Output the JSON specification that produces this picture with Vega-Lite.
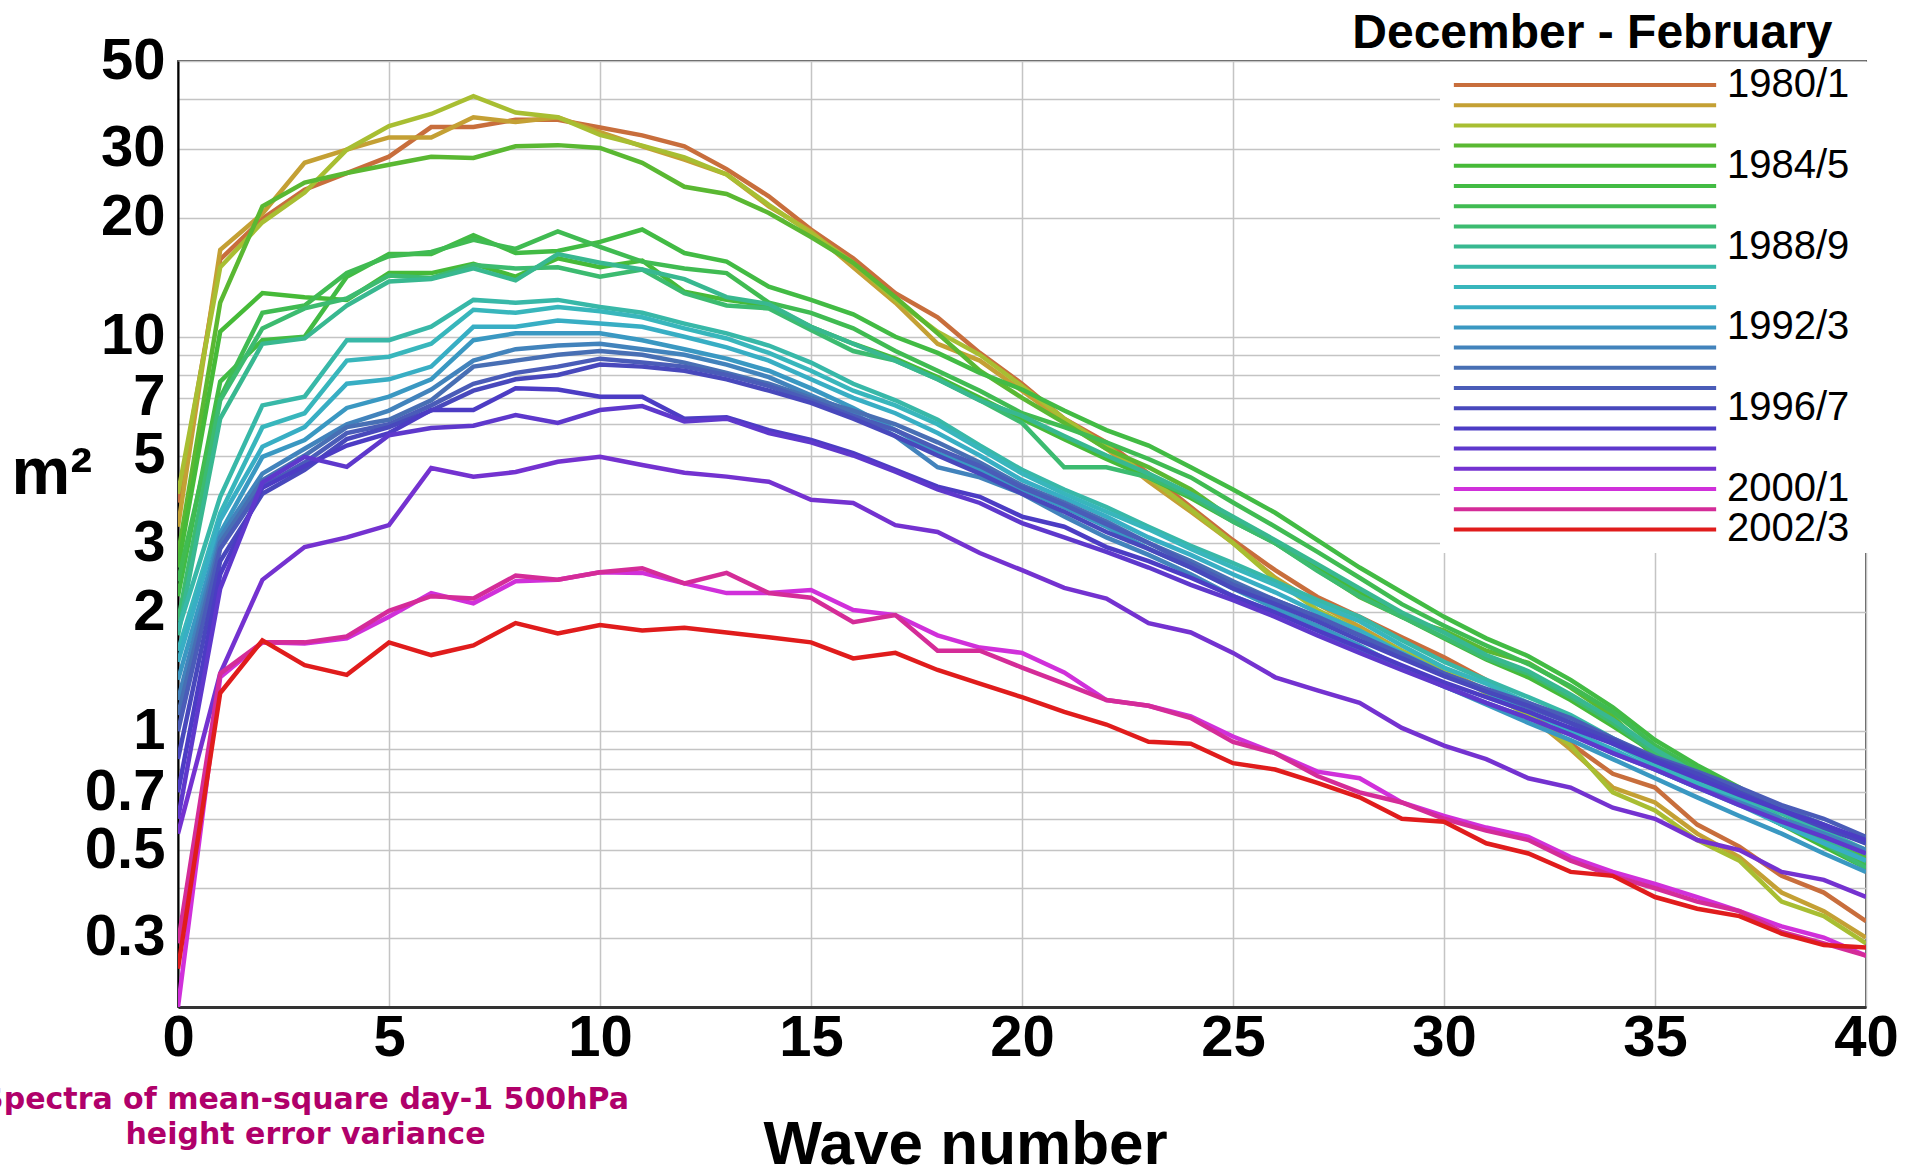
{
"$schema":"https://vega.github.io/schema/vega-lite/v6.json",
"width":1688,"height":946,
"autosize":{"type":"none"},
"padding":{"left":178,"top":61,"right":49,"bottom":161},
"background":"white",
"config":{"view":{"stroke":"#555555","strokeWidth":2},"font":"Liberation Sans"},
"data":{"values":[
{"w":"1980/1","n":0,"v":3.8},{"w":"1980/1","n":1,"v":15.7},{"w":"1980/1","n":2,"v":19.9},{"w":"1980/1","n":3,"v":23.6},{"w":"1980/1","n":4,"v":26},{"w":"1980/1","n":5,"v":28.6},{"w":"1980/1","n":6,"v":34},{"w":"1980/1","n":7,"v":34},{"w":"1980/1","n":8,"v":35.5},{"w":"1980/1","n":9,"v":35.5},{"w":"1980/1","n":10,"v":33.9},{"w":"1980/1","n":11,"v":32.4},{"w":"1980/1","n":12,"v":30.4},{"w":"1980/1","n":13,"v":26.6},{"w":"1980/1","n":14,"v":22.7},{"w":"1980/1","n":15,"v":18.7},{"w":"1980/1","n":16,"v":15.8},{"w":"1980/1","n":17,"v":12.9},{"w":"1980/1","n":18,"v":11.2},{"w":"1980/1","n":19,"v":9.1},{"w":"1980/1","n":20,"v":7.6},{"w":"1980/1","n":21,"v":6.2},{"w":"1980/1","n":22,"v":5.4},{"w":"1980/1","n":23,"v":4.5},{"w":"1980/1","n":24,"v":3.7},{"w":"1980/1","n":25,"v":3.05},{"w":"1980/1","n":26,"v":2.56},{"w":"1980/1","n":27,"v":2.19},{"w":"1980/1","n":28,"v":1.95},{"w":"1980/1","n":29,"v":1.73},{"w":"1980/1","n":30,"v":1.54},{"w":"1980/1","n":31,"v":1.35},{"w":"1980/1","n":32,"v":1.13},{"w":"1980/1","n":33,"v":0.93},{"w":"1980/1","n":34,"v":0.78},{"w":"1980/1","n":35,"v":0.72},{"w":"1980/1","n":36,"v":0.58},{"w":"1980/1","n":37,"v":0.51},{"w":"1980/1","n":38,"v":0.43},{"w":"1980/1","n":39,"v":0.39},{"w":"1980/1","n":40,"v":0.33},
{"w":"1981/2","n":0,"v":3.3},{"w":"1981/2","n":1,"v":16.6},{"w":"1981/2","n":2,"v":20.5},{"w":"1981/2","n":3,"v":27.6},{"w":"1981/2","n":4,"v":29.8},{"w":"1981/2","n":5,"v":32},{"w":"1981/2","n":6,"v":32},{"w":"1981/2","n":7,"v":36},{"w":"1981/2","n":8,"v":35},{"w":"1981/2","n":9,"v":36},{"w":"1981/2","n":10,"v":33},{"w":"1981/2","n":11,"v":30.4},{"w":"1981/2","n":12,"v":28.1},{"w":"1981/2","n":13,"v":25.8},{"w":"1981/2","n":14,"v":21.4},{"w":"1981/2","n":15,"v":18.5},{"w":"1981/2","n":16,"v":15},{"w":"1981/2","n":17,"v":12.2},{"w":"1981/2","n":18,"v":9.6},{"w":"1981/2","n":19,"v":8.7},{"w":"1981/2","n":20,"v":7.3},{"w":"1981/2","n":21,"v":6.1},{"w":"1981/2","n":22,"v":5.2},{"w":"1981/2","n":23,"v":4.3},{"w":"1981/2","n":24,"v":3.6},{"w":"1981/2","n":25,"v":3.0},{"w":"1981/2","n":26,"v":2.45},{"w":"1981/2","n":27,"v":2.1},{"w":"1981/2","n":28,"v":1.84},{"w":"1981/2","n":29,"v":1.6},{"w":"1981/2","n":30,"v":1.43},{"w":"1981/2","n":31,"v":1.27},{"w":"1981/2","n":32,"v":1.1},{"w":"1981/2","n":33,"v":0.9},{"w":"1981/2","n":34,"v":0.72},{"w":"1981/2","n":35,"v":0.66},{"w":"1981/2","n":36,"v":0.55},{"w":"1981/2","n":37,"v":0.48},{"w":"1981/2","n":38,"v":0.39},{"w":"1981/2","n":39,"v":0.35},{"w":"1981/2","n":40,"v":0.3},
{"w":"1982/3","n":0,"v":4.0},{"w":"1982/3","n":1,"v":15},{"w":"1982/3","n":2,"v":19.5},{"w":"1982/3","n":3,"v":23.2},{"w":"1982/3","n":4,"v":29.8},{"w":"1982/3","n":5,"v":34.2},{"w":"1982/3","n":6,"v":36.7},{"w":"1982/3","n":7,"v":40.7},{"w":"1982/3","n":8,"v":37},{"w":"1982/3","n":9,"v":36},{"w":"1982/3","n":10,"v":32.5},{"w":"1982/3","n":11,"v":30.5},{"w":"1982/3","n":12,"v":28.5},{"w":"1982/3","n":13,"v":25.8},{"w":"1982/3","n":14,"v":21.6},{"w":"1982/3","n":15,"v":18.3},{"w":"1982/3","n":16,"v":15.4},{"w":"1982/3","n":17,"v":12.4},{"w":"1982/3","n":18,"v":10.3},{"w":"1982/3","n":19,"v":9.0},{"w":"1982/3","n":20,"v":7.5},{"w":"1982/3","n":21,"v":6.2},{"w":"1982/3","n":22,"v":5.3},{"w":"1982/3","n":23,"v":4.4},{"w":"1982/3","n":24,"v":3.65},{"w":"1982/3","n":25,"v":3.0},{"w":"1982/3","n":26,"v":2.42},{"w":"1982/3","n":27,"v":2.03},{"w":"1982/3","n":28,"v":1.8},{"w":"1982/3","n":29,"v":1.6},{"w":"1982/3","n":30,"v":1.43},{"w":"1982/3","n":31,"v":1.25},{"w":"1982/3","n":32,"v":1.1},{"w":"1982/3","n":33,"v":0.92},{"w":"1982/3","n":34,"v":0.7},{"w":"1982/3","n":35,"v":0.63},{"w":"1982/3","n":36,"v":0.53},{"w":"1982/3","n":37,"v":0.47},{"w":"1982/3","n":38,"v":0.37},{"w":"1982/3","n":39,"v":0.34},{"w":"1982/3","n":40,"v":0.29},
{"w":"1983/4","n":0,"v":2.8},{"w":"1983/4","n":1,"v":12.2},{"w":"1983/4","n":2,"v":21.4},{"w":"1983/4","n":3,"v":24.6},{"w":"1983/4","n":4,"v":26},{"w":"1983/4","n":5,"v":27.3},{"w":"1983/4","n":6,"v":28.6},{"w":"1983/4","n":7,"v":28.4},{"w":"1983/4","n":8,"v":30.4},{"w":"1983/4","n":9,"v":30.6},{"w":"1983/4","n":10,"v":30.1},{"w":"1983/4","n":11,"v":27.6},{"w":"1983/4","n":12,"v":24},{"w":"1983/4","n":13,"v":23},{"w":"1983/4","n":14,"v":20.6},{"w":"1983/4","n":15,"v":17.9},{"w":"1983/4","n":16,"v":15.4},{"w":"1983/4","n":17,"v":12.6},{"w":"1983/4","n":18,"v":10.2},{"w":"1983/4","n":19,"v":8.2},{"w":"1983/4","n":20,"v":7.0},{"w":"1983/4","n":21,"v":6.05},{"w":"1983/4","n":22,"v":5.2},{"w":"1983/4","n":23,"v":4.67},{"w":"1983/4","n":24,"v":4.1},{"w":"1983/4","n":25,"v":3.45},{"w":"1983/4","n":26,"v":3.0},{"w":"1983/4","n":27,"v":2.56},{"w":"1983/4","n":28,"v":2.19},{"w":"1983/4","n":29,"v":1.95},{"w":"1983/4","n":30,"v":1.8},{"w":"1983/4","n":31,"v":1.6},{"w":"1983/4","n":32,"v":1.49},{"w":"1983/4","n":33,"v":1.29},{"w":"1983/4","n":34,"v":1.09},{"w":"1983/4","n":35,"v":0.86},{"w":"1983/4","n":36,"v":0.76},{"w":"1983/4","n":37,"v":0.66},{"w":"1983/4","n":38,"v":0.58},{"w":"1983/4","n":39,"v":0.53},{"w":"1983/4","n":40,"v":0.48},
{"w":"1984/5","n":0,"v":2.6},{"w":"1984/5","n":1,"v":10.3},{"w":"1984/5","n":2,"v":12.9},{"w":"1984/5","n":3,"v":12.6},{"w":"1984/5","n":4,"v":12.4},{"w":"1984/5","n":5,"v":14.5},{"w":"1984/5","n":6,"v":14.5},{"w":"1984/5","n":7,"v":15.3},{"w":"1984/5","n":8,"v":14.2},{"w":"1984/5","n":9,"v":15.8},{"w":"1984/5","n":10,"v":15.0},{"w":"1984/5","n":11,"v":15.6},{"w":"1984/5","n":12,"v":13.0},{"w":"1984/5","n":13,"v":12.4},{"w":"1984/5","n":14,"v":12.0},{"w":"1984/5","n":15,"v":10.6},{"w":"1984/5","n":16,"v":9.6},{"w":"1984/5","n":17,"v":8.8},{"w":"1984/5","n":18,"v":7.9},{"w":"1984/5","n":19,"v":7.0},{"w":"1984/5","n":20,"v":6.2},{"w":"1984/5","n":21,"v":5.5},{"w":"1984/5","n":22,"v":4.9},{"w":"1984/5","n":23,"v":4.4},{"w":"1984/5","n":24,"v":3.9},{"w":"1984/5","n":25,"v":3.4},{"w":"1984/5","n":26,"v":3.0},{"w":"1984/5","n":27,"v":2.6},{"w":"1984/5","n":28,"v":2.25},{"w":"1984/5","n":29,"v":1.95},{"w":"1984/5","n":30,"v":1.72},{"w":"1984/5","n":31,"v":1.52},{"w":"1984/5","n":32,"v":1.37},{"w":"1984/5","n":33,"v":1.2},{"w":"1984/5","n":34,"v":1.03},{"w":"1984/5","n":35,"v":0.88},{"w":"1984/5","n":36,"v":0.76},{"w":"1984/5","n":37,"v":0.66},{"w":"1984/5","n":38,"v":0.58},{"w":"1984/5","n":39,"v":0.51},{"w":"1984/5","n":40,"v":0.45},
{"w":"1985/6","n":0,"v":2.2},{"w":"1985/6","n":1,"v":7.7},{"w":"1985/6","n":2,"v":9.8},{"w":"1985/6","n":3,"v":10.0},{"w":"1985/6","n":4,"v":14.2},{"w":"1985/6","n":5,"v":16.2},{"w":"1985/6","n":6,"v":16.2},{"w":"1985/6","n":7,"v":18.1},{"w":"1985/6","n":8,"v":16.3},{"w":"1985/6","n":9,"v":16.5},{"w":"1985/6","n":10,"v":17.4},{"w":"1985/6","n":11,"v":18.7},{"w":"1985/6","n":12,"v":16.3},{"w":"1985/6","n":13,"v":15.5},{"w":"1985/6","n":14,"v":13.4},{"w":"1985/6","n":15,"v":12.4},{"w":"1985/6","n":16,"v":11.4},{"w":"1985/6","n":17,"v":10.0},{"w":"1985/6","n":18,"v":9.1},{"w":"1985/6","n":19,"v":8.1},{"w":"1985/6","n":20,"v":7.35},{"w":"1985/6","n":21,"v":6.5},{"w":"1985/6","n":22,"v":5.8},{"w":"1985/6","n":23,"v":5.3},{"w":"1985/6","n":24,"v":4.67},{"w":"1985/6","n":25,"v":4.1},{"w":"1985/6","n":26,"v":3.58},{"w":"1985/6","n":27,"v":3.05},{"w":"1985/6","n":28,"v":2.6},{"w":"1985/6","n":29,"v":2.25},{"w":"1985/6","n":30,"v":1.95},{"w":"1985/6","n":31,"v":1.72},{"w":"1985/6","n":32,"v":1.55},{"w":"1985/6","n":33,"v":1.35},{"w":"1985/6","n":34,"v":1.15},{"w":"1985/6","n":35,"v":0.95},{"w":"1985/6","n":36,"v":0.82},{"w":"1985/6","n":37,"v":0.72},{"w":"1985/6","n":38,"v":0.62},{"w":"1985/6","n":39,"v":0.55},{"w":"1985/6","n":40,"v":0.49},
{"w":"1986/7","n":0,"v":2.4},{"w":"1986/7","n":1,"v":7.0},{"w":"1986/7","n":2,"v":11.5},{"w":"1986/7","n":3,"v":12.0},{"w":"1986/7","n":4,"v":14.5},{"w":"1986/7","n":5,"v":16.0},{"w":"1986/7","n":6,"v":16.4},{"w":"1986/7","n":7,"v":17.6},{"w":"1986/7","n":8,"v":16.7},{"w":"1986/7","n":9,"v":18.5},{"w":"1986/7","n":10,"v":16.9},{"w":"1986/7","n":11,"v":15.5},{"w":"1986/7","n":12,"v":14.9},{"w":"1986/7","n":13,"v":14.5},{"w":"1986/7","n":14,"v":12.2},{"w":"1986/7","n":15,"v":11.5},{"w":"1986/7","n":16,"v":10.5},{"w":"1986/7","n":17,"v":9.2},{"w":"1986/7","n":18,"v":8.2},{"w":"1986/7","n":19,"v":7.3},{"w":"1986/7","n":20,"v":6.4},{"w":"1986/7","n":21,"v":5.9},{"w":"1986/7","n":22,"v":5.4},{"w":"1986/7","n":23,"v":4.9},{"w":"1986/7","n":24,"v":4.4},{"w":"1986/7","n":25,"v":3.8},{"w":"1986/7","n":26,"v":3.3},{"w":"1986/7","n":27,"v":2.85},{"w":"1986/7","n":28,"v":2.45},{"w":"1986/7","n":29,"v":2.1},{"w":"1986/7","n":30,"v":1.85},{"w":"1986/7","n":31,"v":1.65},{"w":"1986/7","n":32,"v":1.48},{"w":"1986/7","n":33,"v":1.3},{"w":"1986/7","n":34,"v":1.12},{"w":"1986/7","n":35,"v":0.92},{"w":"1986/7","n":36,"v":0.8},{"w":"1986/7","n":37,"v":0.7},{"w":"1986/7","n":38,"v":0.6},{"w":"1986/7","n":39,"v":0.53},{"w":"1986/7","n":40,"v":0.46},
{"w":"1987/8","n":0,"v":1.9},{"w":"1987/8","n":1,"v":6.9},{"w":"1987/8","n":2,"v":10.5},{"w":"1987/8","n":3,"v":11.8},{"w":"1987/8","n":4,"v":12.5},{"w":"1987/8","n":5,"v":14.3},{"w":"1987/8","n":6,"v":14.1},{"w":"1987/8","n":7,"v":15.2},{"w":"1987/8","n":8,"v":14.9},{"w":"1987/8","n":9,"v":15.0},{"w":"1987/8","n":10,"v":14.2},{"w":"1987/8","n":11,"v":14.8},{"w":"1987/8","n":12,"v":12.9},{"w":"1987/8","n":13,"v":12.0},{"w":"1987/8","n":14,"v":11.8},{"w":"1987/8","n":15,"v":10.4},{"w":"1987/8","n":16,"v":9.2},{"w":"1987/8","n":17,"v":8.7},{"w":"1987/8","n":18,"v":7.8},{"w":"1987/8","n":19,"v":6.9},{"w":"1987/8","n":20,"v":6.05},{"w":"1987/8","n":21,"v":4.67},{"w":"1987/8","n":22,"v":4.67},{"w":"1987/8","n":23,"v":4.4},{"w":"1987/8","n":24,"v":3.95},{"w":"1987/8","n":25,"v":3.4},{"w":"1987/8","n":26,"v":3.0},{"w":"1987/8","n":27,"v":2.55},{"w":"1987/8","n":28,"v":2.2},{"w":"1987/8","n":29,"v":1.95},{"w":"1987/8","n":30,"v":1.73},{"w":"1987/8","n":31,"v":1.53},{"w":"1987/8","n":32,"v":1.4},{"w":"1987/8","n":33,"v":1.22},{"w":"1987/8","n":34,"v":1.05},{"w":"1987/8","n":35,"v":0.88},{"w":"1987/8","n":36,"v":0.77},{"w":"1987/8","n":37,"v":0.67},{"w":"1987/8","n":38,"v":0.59},{"w":"1987/8","n":39,"v":0.52},{"w":"1987/8","n":40,"v":0.45},
{"w":"1988/9","n":0,"v":1.75},{"w":"1988/9","n":1,"v":6.2},{"w":"1988/9","n":2,"v":9.6},{"w":"1988/9","n":3,"v":9.9},{"w":"1988/9","n":4,"v":12.0},{"w":"1988/9","n":5,"v":13.8},{"w":"1988/9","n":6,"v":14.0},{"w":"1988/9","n":7,"v":14.9},{"w":"1988/9","n":8,"v":13.9},{"w":"1988/9","n":9,"v":16.2},{"w":"1988/9","n":10,"v":15.4},{"w":"1988/9","n":11,"v":14.8},{"w":"1988/9","n":12,"v":14.0},{"w":"1988/9","n":13,"v":12.6},{"w":"1988/9","n":14,"v":12.1},{"w":"1988/9","n":15,"v":10.6},{"w":"1988/9","n":16,"v":9.6},{"w":"1988/9","n":17,"v":8.7},{"w":"1988/9","n":18,"v":7.8},{"w":"1988/9","n":19,"v":6.9},{"w":"1988/9","n":20,"v":6.3},{"w":"1988/9","n":21,"v":5.6},{"w":"1988/9","n":22,"v":5.0},{"w":"1988/9","n":23,"v":4.5},{"w":"1988/9","n":24,"v":4.0},{"w":"1988/9","n":25,"v":3.5},{"w":"1988/9","n":26,"v":3.05},{"w":"1988/9","n":27,"v":2.65},{"w":"1988/9","n":28,"v":2.3},{"w":"1988/9","n":29,"v":2.0},{"w":"1988/9","n":30,"v":1.78},{"w":"1988/9","n":31,"v":1.56},{"w":"1988/9","n":32,"v":1.42},{"w":"1988/9","n":33,"v":1.24},{"w":"1988/9","n":34,"v":1.07},{"w":"1988/9","n":35,"v":0.9},{"w":"1988/9","n":36,"v":0.78},{"w":"1988/9","n":37,"v":0.68},{"w":"1988/9","n":38,"v":0.6},{"w":"1988/9","n":39,"v":0.53},{"w":"1988/9","n":40,"v":0.47},
{"w":"1989/0","n":0,"v":1.8},{"w":"1989/0","n":1,"v":3.93},{"w":"1989/0","n":2,"v":6.7},{"w":"1989/0","n":3,"v":7.05},{"w":"1989/0","n":4,"v":9.8},{"w":"1989/0","n":5,"v":9.8},{"w":"1989/0","n":6,"v":10.6},{"w":"1989/0","n":7,"v":12.4},{"w":"1989/0","n":8,"v":12.2},{"w":"1989/0","n":9,"v":12.4},{"w":"1989/0","n":10,"v":11.9},{"w":"1989/0","n":11,"v":11.5},{"w":"1989/0","n":12,"v":10.8},{"w":"1989/0","n":13,"v":10.2},{"w":"1989/0","n":14,"v":9.5},{"w":"1989/0","n":15,"v":8.6},{"w":"1989/0","n":16,"v":7.6},{"w":"1989/0","n":17,"v":6.9},{"w":"1989/0","n":18,"v":6.16},{"w":"1989/0","n":19,"v":5.3},{"w":"1989/0","n":20,"v":4.6},{"w":"1989/0","n":21,"v":4.1},{"w":"1989/0","n":22,"v":3.7},{"w":"1989/0","n":23,"v":3.3},{"w":"1989/0","n":24,"v":2.95},{"w":"1989/0","n":25,"v":2.67},{"w":"1989/0","n":26,"v":2.4},{"w":"1989/0","n":27,"v":2.15},{"w":"1989/0","n":28,"v":1.95},{"w":"1989/0","n":29,"v":1.7},{"w":"1989/0","n":30,"v":1.5},{"w":"1989/0","n":31,"v":1.35},{"w":"1989/0","n":32,"v":1.22},{"w":"1989/0","n":33,"v":1.1},{"w":"1989/0","n":34,"v":0.96},{"w":"1989/0","n":35,"v":0.85},{"w":"1989/0","n":36,"v":0.77},{"w":"1989/0","n":37,"v":0.69},{"w":"1989/0","n":38,"v":0.62},{"w":"1989/0","n":39,"v":0.56},{"w":"1989/0","n":40,"v":0.5},
{"w":"1990/1","n":0,"v":1.6},{"w":"1990/1","n":1,"v":3.57},{"w":"1990/1","n":2,"v":5.9},{"w":"1990/1","n":3,"v":6.4},{"w":"1990/1","n":4,"v":8.7},{"w":"1990/1","n":5,"v":8.9},{"w":"1990/1","n":6,"v":9.6},{"w":"1990/1","n":7,"v":11.7},{"w":"1990/1","n":8,"v":11.5},{"w":"1990/1","n":9,"v":11.9},{"w":"1990/1","n":10,"v":11.6},{"w":"1990/1","n":11,"v":11.2},{"w":"1990/1","n":12,"v":10.5},{"w":"1990/1","n":13,"v":9.9},{"w":"1990/1","n":14,"v":9.1},{"w":"1990/1","n":15,"v":8.2},{"w":"1990/1","n":16,"v":7.3},{"w":"1990/1","n":17,"v":6.7},{"w":"1990/1","n":18,"v":6.0},{"w":"1990/1","n":19,"v":5.2},{"w":"1990/1","n":20,"v":4.5},{"w":"1990/1","n":21,"v":4.0},{"w":"1990/1","n":22,"v":3.6},{"w":"1990/1","n":23,"v":3.25},{"w":"1990/1","n":24,"v":2.9},{"w":"1990/1","n":25,"v":2.6},{"w":"1990/1","n":26,"v":2.35},{"w":"1990/1","n":27,"v":2.1},{"w":"1990/1","n":28,"v":1.9},{"w":"1990/1","n":29,"v":1.65},{"w":"1990/1","n":30,"v":1.45},{"w":"1990/1","n":31,"v":1.32},{"w":"1990/1","n":32,"v":1.18},{"w":"1990/1","n":33,"v":1.05},{"w":"1990/1","n":34,"v":0.93},{"w":"1990/1","n":35,"v":0.82},{"w":"1990/1","n":36,"v":0.74},{"w":"1990/1","n":37,"v":0.67},{"w":"1990/1","n":38,"v":0.6},{"w":"1990/1","n":39,"v":0.54},{"w":"1990/1","n":40,"v":0.49},
{"w":"1991/2","n":0,"v":1.5},{"w":"1991/2","n":1,"v":3.43},{"w":"1991/2","n":2,"v":5.26},{"w":"1991/2","n":3,"v":5.9},{"w":"1991/2","n":4,"v":7.6},{"w":"1991/2","n":5,"v":7.8},{"w":"1991/2","n":6,"v":8.4},{"w":"1991/2","n":7,"v":10.6},{"w":"1991/2","n":8,"v":10.6},{"w":"1991/2","n":9,"v":11.0},{"w":"1991/2","n":10,"v":10.8},{"w":"1991/2","n":11,"v":10.6},{"w":"1991/2","n":12,"v":10.0},{"w":"1991/2","n":13,"v":9.4},{"w":"1991/2","n":14,"v":8.7},{"w":"1991/2","n":15,"v":7.8},{"w":"1991/2","n":16,"v":7.0},{"w":"1991/2","n":17,"v":6.4},{"w":"1991/2","n":18,"v":5.7},{"w":"1991/2","n":19,"v":5.0},{"w":"1991/2","n":20,"v":4.33},{"w":"1991/2","n":21,"v":3.9},{"w":"1991/2","n":22,"v":3.5},{"w":"1991/2","n":23,"v":3.1},{"w":"1991/2","n":24,"v":2.8},{"w":"1991/2","n":25,"v":2.5},{"w":"1991/2","n":26,"v":2.25},{"w":"1991/2","n":27,"v":2.0},{"w":"1991/2","n":28,"v":1.8},{"w":"1991/2","n":29,"v":1.58},{"w":"1991/2","n":30,"v":1.4},{"w":"1991/2","n":31,"v":1.26},{"w":"1991/2","n":32,"v":1.12},{"w":"1991/2","n":33,"v":1.0},{"w":"1991/2","n":34,"v":0.9},{"w":"1991/2","n":35,"v":0.8},{"w":"1991/2","n":36,"v":0.72},{"w":"1991/2","n":37,"v":0.65},{"w":"1991/2","n":38,"v":0.58},{"w":"1991/2","n":39,"v":0.52},{"w":"1991/2","n":40,"v":0.47},
{"w":"1992/3","n":0,"v":1.35},{"w":"1992/3","n":1,"v":3.18},{"w":"1992/3","n":2,"v":4.96},{"w":"1992/3","n":3,"v":5.47},{"w":"1992/3","n":4,"v":6.6},{"w":"1992/3","n":5,"v":7.05},{"w":"1992/3","n":6,"v":7.8},{"w":"1992/3","n":7,"v":9.8},{"w":"1992/3","n":8,"v":10.2},{"w":"1992/3","n":9,"v":10.2},{"w":"1992/3","n":10,"v":10.2},{"w":"1992/3","n":11,"v":9.8},{"w":"1992/3","n":12,"v":9.3},{"w":"1992/3","n":13,"v":8.8},{"w":"1992/3","n":14,"v":8.2},{"w":"1992/3","n":15,"v":7.4},{"w":"1992/3","n":16,"v":6.6},{"w":"1992/3","n":17,"v":5.8},{"w":"1992/3","n":18,"v":5.07},{"w":"1992/3","n":19,"v":4.6},{"w":"1992/3","n":20,"v":4.1},{"w":"1992/3","n":21,"v":3.7},{"w":"1992/3","n":22,"v":3.3},{"w":"1992/3","n":23,"v":2.9},{"w":"1992/3","n":24,"v":2.6},{"w":"1992/3","n":25,"v":2.3},{"w":"1992/3","n":26,"v":2.05},{"w":"1992/3","n":27,"v":1.85},{"w":"1992/3","n":28,"v":1.65},{"w":"1992/3","n":29,"v":1.45},{"w":"1992/3","n":30,"v":1.3},{"w":"1992/3","n":31,"v":1.17},{"w":"1992/3","n":32,"v":1.05},{"w":"1992/3","n":33,"v":0.95},{"w":"1992/3","n":34,"v":0.85},{"w":"1992/3","n":35,"v":0.76},{"w":"1992/3","n":36,"v":0.68},{"w":"1992/3","n":37,"v":0.61},{"w":"1992/3","n":38,"v":0.55},{"w":"1992/3","n":39,"v":0.49},{"w":"1992/3","n":40,"v":0.44},
{"w":"1993/4","n":0,"v":1.2},{"w":"1993/4","n":1,"v":3.1},{"w":"1993/4","n":2,"v":4.5},{"w":"1993/4","n":3,"v":5.2},{"w":"1993/4","n":4,"v":6.0},{"w":"1993/4","n":5,"v":6.5},{"w":"1993/4","n":6,"v":7.35},{"w":"1993/4","n":7,"v":8.7},{"w":"1993/4","n":8,"v":9.3},{"w":"1993/4","n":9,"v":9.5},{"w":"1993/4","n":10,"v":9.6},{"w":"1993/4","n":11,"v":9.3},{"w":"1993/4","n":12,"v":9.0},{"w":"1993/4","n":13,"v":8.5},{"w":"1993/4","n":14,"v":7.9},{"w":"1993/4","n":15,"v":7.1},{"w":"1993/4","n":16,"v":6.4},{"w":"1993/4","n":17,"v":5.6},{"w":"1993/4","n":18,"v":4.67},{"w":"1993/4","n":19,"v":4.4},{"w":"1993/4","n":20,"v":4.0},{"w":"1993/4","n":21,"v":3.5},{"w":"1993/4","n":22,"v":3.1},{"w":"1993/4","n":23,"v":2.8},{"w":"1993/4","n":24,"v":2.5},{"w":"1993/4","n":25,"v":2.2},{"w":"1993/4","n":26,"v":2.0},{"w":"1993/4","n":27,"v":1.8},{"w":"1993/4","n":28,"v":1.6},{"w":"1993/4","n":29,"v":1.45},{"w":"1993/4","n":30,"v":1.3},{"w":"1993/4","n":31,"v":1.18},{"w":"1993/4","n":32,"v":1.08},{"w":"1993/4","n":33,"v":0.98},{"w":"1993/4","n":34,"v":0.88},{"w":"1993/4","n":35,"v":0.8},{"w":"1993/4","n":36,"v":0.72},{"w":"1993/4","n":37,"v":0.66},{"w":"1993/4","n":38,"v":0.6},{"w":"1993/4","n":39,"v":0.55},{"w":"1993/4","n":40,"v":0.5},
{"w":"1994/5","n":0,"v":1.1},{"w":"1994/5","n":1,"v":3.0},{"w":"1994/5","n":2,"v":4.33},{"w":"1994/5","n":3,"v":5.0},{"w":"1994/5","n":4,"v":5.9},{"w":"1994/5","n":5,"v":6.16},{"w":"1994/5","n":6,"v":6.9},{"w":"1994/5","n":7,"v":8.4},{"w":"1994/5","n":8,"v":8.7},{"w":"1994/5","n":9,"v":9.0},{"w":"1994/5","n":10,"v":9.2},{"w":"1994/5","n":11,"v":9.0},{"w":"1994/5","n":12,"v":8.6},{"w":"1994/5","n":13,"v":8.1},{"w":"1994/5","n":14,"v":7.6},{"w":"1994/5","n":15,"v":7.0},{"w":"1994/5","n":16,"v":6.5},{"w":"1994/5","n":17,"v":6.0},{"w":"1994/5","n":18,"v":5.4},{"w":"1994/5","n":19,"v":4.8},{"w":"1994/5","n":20,"v":4.2},{"w":"1994/5","n":21,"v":3.8},{"w":"1994/5","n":22,"v":3.4},{"w":"1994/5","n":23,"v":3.0},{"w":"1994/5","n":24,"v":2.7},{"w":"1994/5","n":25,"v":2.4},{"w":"1994/5","n":26,"v":2.15},{"w":"1994/5","n":27,"v":1.95},{"w":"1994/5","n":28,"v":1.75},{"w":"1994/5","n":29,"v":1.55},{"w":"1994/5","n":30,"v":1.4},{"w":"1994/5","n":31,"v":1.27},{"w":"1994/5","n":32,"v":1.15},{"w":"1994/5","n":33,"v":1.05},{"w":"1994/5","n":34,"v":0.94},{"w":"1994/5","n":35,"v":0.84},{"w":"1994/5","n":36,"v":0.76},{"w":"1994/5","n":37,"v":0.7},{"w":"1994/5","n":38,"v":0.64},{"w":"1994/5","n":39,"v":0.58},{"w":"1994/5","n":40,"v":0.52},
{"w":"1995/6","n":0,"v":1.0},{"w":"1995/6","n":1,"v":2.9},{"w":"1995/6","n":2,"v":4.17},{"w":"1995/6","n":3,"v":4.8},{"w":"1995/6","n":4,"v":5.7},{"w":"1995/6","n":5,"v":6.0},{"w":"1995/6","n":6,"v":6.7},{"w":"1995/6","n":7,"v":7.6},{"w":"1995/6","n":8,"v":8.1},{"w":"1995/6","n":9,"v":8.4},{"w":"1995/6","n":10,"v":8.8},{"w":"1995/6","n":11,"v":8.6},{"w":"1995/6","n":12,"v":8.4},{"w":"1995/6","n":13,"v":8.0},{"w":"1995/6","n":14,"v":7.5},{"w":"1995/6","n":15,"v":6.9},{"w":"1995/6","n":16,"v":6.3},{"w":"1995/6","n":17,"v":5.8},{"w":"1995/6","n":18,"v":5.2},{"w":"1995/6","n":19,"v":4.7},{"w":"1995/6","n":20,"v":4.15},{"w":"1995/6","n":21,"v":3.75},{"w":"1995/6","n":22,"v":3.35},{"w":"1995/6","n":23,"v":3.0},{"w":"1995/6","n":24,"v":2.65},{"w":"1995/6","n":25,"v":2.35},{"w":"1995/6","n":26,"v":2.15},{"w":"1995/6","n":27,"v":1.95},{"w":"1995/6","n":28,"v":1.75},{"w":"1995/6","n":29,"v":1.57},{"w":"1995/6","n":30,"v":1.4},{"w":"1995/6","n":31,"v":1.28},{"w":"1995/6","n":32,"v":1.18},{"w":"1995/6","n":33,"v":1.08},{"w":"1995/6","n":34,"v":0.96},{"w":"1995/6","n":35,"v":0.86},{"w":"1995/6","n":36,"v":0.79},{"w":"1995/6","n":37,"v":0.72},{"w":"1995/6","n":38,"v":0.65},{"w":"1995/6","n":39,"v":0.6},{"w":"1995/6","n":40,"v":0.54},
{"w":"1996/7","n":0,"v":0.85},{"w":"1996/7","n":1,"v":2.7},{"w":"1996/7","n":2,"v":4.0},{"w":"1996/7","n":3,"v":4.6},{"w":"1996/7","n":4,"v":5.5},{"w":"1996/7","n":5,"v":5.9},{"w":"1996/7","n":6,"v":6.5},{"w":"1996/7","n":7,"v":7.3},{"w":"1996/7","n":8,"v":7.8},{"w":"1996/7","n":9,"v":8.0},{"w":"1996/7","n":10,"v":8.5},{"w":"1996/7","n":11,"v":8.4},{"w":"1996/7","n":12,"v":8.2},{"w":"1996/7","n":13,"v":7.8},{"w":"1996/7","n":14,"v":7.3},{"w":"1996/7","n":15,"v":6.8},{"w":"1996/7","n":16,"v":6.2},{"w":"1996/7","n":17,"v":5.6},{"w":"1996/7","n":18,"v":5.0},{"w":"1996/7","n":19,"v":4.5},{"w":"1996/7","n":20,"v":4.0},{"w":"1996/7","n":21,"v":3.6},{"w":"1996/7","n":22,"v":3.2},{"w":"1996/7","n":23,"v":2.9},{"w":"1996/7","n":24,"v":2.6},{"w":"1996/7","n":25,"v":2.3},{"w":"1996/7","n":26,"v":2.1},{"w":"1996/7","n":27,"v":1.9},{"w":"1996/7","n":28,"v":1.7},{"w":"1996/7","n":29,"v":1.53},{"w":"1996/7","n":30,"v":1.38},{"w":"1996/7","n":31,"v":1.26},{"w":"1996/7","n":32,"v":1.16},{"w":"1996/7","n":33,"v":1.05},{"w":"1996/7","n":34,"v":0.95},{"w":"1996/7","n":35,"v":0.85},{"w":"1996/7","n":36,"v":0.78},{"w":"1996/7","n":37,"v":0.7},{"w":"1996/7","n":38,"v":0.63},{"w":"1996/7","n":39,"v":0.57},{"w":"1996/7","n":40,"v":0.52},
{"w":"1997/8","n":0,"v":0.7},{"w":"1997/8","n":1,"v":2.5},{"w":"1997/8","n":2,"v":4.14},{"w":"1997/8","n":3,"v":4.7},{"w":"1997/8","n":4,"v":5.3},{"w":"1997/8","n":5,"v":5.7},{"w":"1997/8","n":6,"v":6.52},{"w":"1997/8","n":7,"v":6.52},{"w":"1997/8","n":8,"v":7.4},{"w":"1997/8","n":9,"v":7.35},{"w":"1997/8","n":10,"v":7.05},{"w":"1997/8","n":11,"v":7.05},{"w":"1997/8","n":12,"v":6.2},{"w":"1997/8","n":13,"v":6.25},{"w":"1997/8","n":14,"v":5.8},{"w":"1997/8","n":15,"v":5.48},{"w":"1997/8","n":16,"v":5.07},{"w":"1997/8","n":17,"v":4.6},{"w":"1997/8","n":18,"v":4.17},{"w":"1997/8","n":19,"v":3.93},{"w":"1997/8","n":20,"v":3.5},{"w":"1997/8","n":21,"v":3.3},{"w":"1997/8","n":22,"v":2.93},{"w":"1997/8","n":23,"v":2.7},{"w":"1997/8","n":24,"v":2.45},{"w":"1997/8","n":25,"v":2.2},{"w":"1997/8","n":26,"v":2.0},{"w":"1997/8","n":27,"v":1.8},{"w":"1997/8","n":28,"v":1.63},{"w":"1997/8","n":29,"v":1.47},{"w":"1997/8","n":30,"v":1.33},{"w":"1997/8","n":31,"v":1.22},{"w":"1997/8","n":32,"v":1.12},{"w":"1997/8","n":33,"v":1.02},{"w":"1997/8","n":34,"v":0.93},{"w":"1997/8","n":35,"v":0.84},{"w":"1997/8","n":36,"v":0.76},{"w":"1997/8","n":37,"v":0.69},{"w":"1997/8","n":38,"v":0.63},{"w":"1997/8","n":39,"v":0.58},{"w":"1997/8","n":40,"v":0.53},
{"w":"1998/9","n":0,"v":0.6},{"w":"1998/9","n":1,"v":2.3},{"w":"1998/9","n":2,"v":4.27},{"w":"1998/9","n":3,"v":4.96},{"w":"1998/9","n":4,"v":4.68},{"w":"1998/9","n":5,"v":5.63},{"w":"1998/9","n":6,"v":5.87},{"w":"1998/9","n":7,"v":5.95},{"w":"1998/9","n":8,"v":6.33},{"w":"1998/9","n":9,"v":6.05},{"w":"1998/9","n":10,"v":6.52},{"w":"1998/9","n":11,"v":6.67},{"w":"1998/9","n":12,"v":6.1},{"w":"1998/9","n":13,"v":6.2},{"w":"1998/9","n":14,"v":5.7},{"w":"1998/9","n":15,"v":5.4},{"w":"1998/9","n":16,"v":5.0},{"w":"1998/9","n":17,"v":4.55},{"w":"1998/9","n":18,"v":4.1},{"w":"1998/9","n":19,"v":3.79},{"w":"1998/9","n":20,"v":3.37},{"w":"1998/9","n":21,"v":3.1},{"w":"1998/9","n":22,"v":2.85},{"w":"1998/9","n":23,"v":2.6},{"w":"1998/9","n":24,"v":2.35},{"w":"1998/9","n":25,"v":2.15},{"w":"1998/9","n":26,"v":1.95},{"w":"1998/9","n":27,"v":1.75},{"w":"1998/9","n":28,"v":1.58},{"w":"1998/9","n":29,"v":1.43},{"w":"1998/9","n":30,"v":1.3},{"w":"1998/9","n":31,"v":1.18},{"w":"1998/9","n":32,"v":1.08},{"w":"1998/9","n":33,"v":0.98},{"w":"1998/9","n":34,"v":0.88},{"w":"1998/9","n":35,"v":0.8},{"w":"1998/9","n":36,"v":0.72},{"w":"1998/9","n":37,"v":0.65},{"w":"1998/9","n":38,"v":0.59},{"w":"1998/9","n":39,"v":0.54},{"w":"1998/9","n":40,"v":0.49},
{"w":"1999/0","n":0,"v":0.55},{"w":"1999/0","n":1,"v":1.4},{"w":"1999/0","n":2,"v":2.42},{"w":"1999/0","n":3,"v":2.93},{"w":"1999/0","n":4,"v":3.1},{"w":"1999/0","n":5,"v":3.33},{"w":"1999/0","n":6,"v":4.65},{"w":"1999/0","n":7,"v":4.42},{"w":"1999/0","n":8,"v":4.54},{"w":"1999/0","n":9,"v":4.82},{"w":"1999/0","n":10,"v":4.96},{"w":"1999/0","n":11,"v":4.73},{"w":"1999/0","n":12,"v":4.52},{"w":"1999/0","n":13,"v":4.42},{"w":"1999/0","n":14,"v":4.29},{"w":"1999/0","n":15,"v":3.86},{"w":"1999/0","n":16,"v":3.79},{"w":"1999/0","n":17,"v":3.33},{"w":"1999/0","n":18,"v":3.2},{"w":"1999/0","n":19,"v":2.83},{"w":"1999/0","n":20,"v":2.56},{"w":"1999/0","n":21,"v":2.31},{"w":"1999/0","n":22,"v":2.17},{"w":"1999/0","n":23,"v":1.88},{"w":"1999/0","n":24,"v":1.78},{"w":"1999/0","n":25,"v":1.58},{"w":"1999/0","n":26,"v":1.37},{"w":"1999/0","n":27,"v":1.27},{"w":"1999/0","n":28,"v":1.18},{"w":"1999/0","n":29,"v":1.02},{"w":"1999/0","n":30,"v":0.92},{"w":"1999/0","n":31,"v":0.85},{"w":"1999/0","n":32,"v":0.76},{"w":"1999/0","n":33,"v":0.72},{"w":"1999/0","n":34,"v":0.64},{"w":"1999/0","n":35,"v":0.6},{"w":"1999/0","n":36,"v":0.53},{"w":"1999/0","n":37,"v":0.5},{"w":"1999/0","n":38,"v":0.44},{"w":"1999/0","n":39,"v":0.42},{"w":"1999/0","n":40,"v":0.38},
{"w":"2000/1","n":0,"v":0.2},{"w":"2000/1","n":1,"v":1.37},{"w":"2000/1","n":2,"v":1.68},{"w":"2000/1","n":3,"v":1.67},{"w":"2000/1","n":4,"v":1.72},{"w":"2000/1","n":5,"v":1.95},{"w":"2000/1","n":6,"v":2.24},{"w":"2000/1","n":7,"v":2.11},{"w":"2000/1","n":8,"v":2.4},{"w":"2000/1","n":9,"v":2.42},{"w":"2000/1","n":10,"v":2.53},{"w":"2000/1","n":11,"v":2.52},{"w":"2000/1","n":12,"v":2.37},{"w":"2000/1","n":13,"v":2.24},{"w":"2000/1","n":14,"v":2.24},{"w":"2000/1","n":15,"v":2.28},{"w":"2000/1","n":16,"v":2.03},{"w":"2000/1","n":17,"v":1.97},{"w":"2000/1","n":18,"v":1.75},{"w":"2000/1","n":19,"v":1.63},{"w":"2000/1","n":20,"v":1.58},{"w":"2000/1","n":21,"v":1.41},{"w":"2000/1","n":22,"v":1.2},{"w":"2000/1","n":23,"v":1.16},{"w":"2000/1","n":24,"v":1.09},{"w":"2000/1","n":25,"v":0.97},{"w":"2000/1","n":26,"v":0.88},{"w":"2000/1","n":27,"v":0.79},{"w":"2000/1","n":28,"v":0.76},{"w":"2000/1","n":29,"v":0.66},{"w":"2000/1","n":30,"v":0.61},{"w":"2000/1","n":31,"v":0.57},{"w":"2000/1","n":32,"v":0.54},{"w":"2000/1","n":33,"v":0.48},{"w":"2000/1","n":34,"v":0.44},{"w":"2000/1","n":35,"v":0.41},{"w":"2000/1","n":36,"v":0.38},{"w":"2000/1","n":37,"v":0.35},{"w":"2000/1","n":38,"v":0.32},{"w":"2000/1","n":39,"v":0.3},{"w":"2000/1","n":40,"v":0.27},
{"w":"2001/2","n":0,"v":0.29},{"w":"2001/2","n":1,"v":1.4},{"w":"2001/2","n":2,"v":1.68},{"w":"2001/2","n":3,"v":1.68},{"w":"2001/2","n":4,"v":1.74},{"w":"2001/2","n":5,"v":2.02},{"w":"2001/2","n":6,"v":2.2},{"w":"2001/2","n":7,"v":2.17},{"w":"2001/2","n":8,"v":2.48},{"w":"2001/2","n":9,"v":2.42},{"w":"2001/2","n":10,"v":2.53},{"w":"2001/2","n":11,"v":2.59},{"w":"2001/2","n":12,"v":2.37},{"w":"2001/2","n":13,"v":2.52},{"w":"2001/2","n":14,"v":2.24},{"w":"2001/2","n":15,"v":2.18},{"w":"2001/2","n":16,"v":1.89},{"w":"2001/2","n":17,"v":1.97},{"w":"2001/2","n":18,"v":1.6},{"w":"2001/2","n":19,"v":1.6},{"w":"2001/2","n":20,"v":1.45},{"w":"2001/2","n":21,"v":1.32},{"w":"2001/2","n":22,"v":1.2},{"w":"2001/2","n":23,"v":1.16},{"w":"2001/2","n":24,"v":1.08},{"w":"2001/2","n":25,"v":0.94},{"w":"2001/2","n":26,"v":0.88},{"w":"2001/2","n":27,"v":0.77},{"w":"2001/2","n":28,"v":0.7},{"w":"2001/2","n":29,"v":0.66},{"w":"2001/2","n":30,"v":0.6},{"w":"2001/2","n":31,"v":0.56},{"w":"2001/2","n":32,"v":0.53},{"w":"2001/2","n":33,"v":0.47},{"w":"2001/2","n":34,"v":0.43},{"w":"2001/2","n":35,"v":0.4},{"w":"2001/2","n":36,"v":0.37},{"w":"2001/2","n":37,"v":0.35},{"w":"2001/2","n":38,"v":0.31},{"w":"2001/2","n":39,"v":0.29},{"w":"2001/2","n":40,"v":0.27},
{"w":"2002/3","n":0,"v":0.25},{"w":"2002/3","n":1,"v":1.25},{"w":"2002/3","n":2,"v":1.7},{"w":"2002/3","n":3,"v":1.47},{"w":"2002/3","n":4,"v":1.39},{"w":"2002/3","n":5,"v":1.68},{"w":"2002/3","n":6,"v":1.56},{"w":"2002/3","n":7,"v":1.65},{"w":"2002/3","n":8,"v":1.88},{"w":"2002/3","n":9,"v":1.77},{"w":"2002/3","n":10,"v":1.86},{"w":"2002/3","n":11,"v":1.8},{"w":"2002/3","n":12,"v":1.83},{"w":"2002/3","n":13,"v":1.78},{"w":"2002/3","n":14,"v":1.73},{"w":"2002/3","n":15,"v":1.68},{"w":"2002/3","n":16,"v":1.53},{"w":"2002/3","n":17,"v":1.58},{"w":"2002/3","n":18,"v":1.43},{"w":"2002/3","n":19,"v":1.32},{"w":"2002/3","n":20,"v":1.22},{"w":"2002/3","n":21,"v":1.12},{"w":"2002/3","n":22,"v":1.04},{"w":"2002/3","n":23,"v":0.94},{"w":"2002/3","n":24,"v":0.93},{"w":"2002/3","n":25,"v":0.83},{"w":"2002/3","n":26,"v":0.8},{"w":"2002/3","n":27,"v":0.74},{"w":"2002/3","n":28,"v":0.68},{"w":"2002/3","n":29,"v":0.6},{"w":"2002/3","n":30,"v":0.59},{"w":"2002/3","n":31,"v":0.52},{"w":"2002/3","n":32,"v":0.49},{"w":"2002/3","n":33,"v":0.44},{"w":"2002/3","n":34,"v":0.43},{"w":"2002/3","n":35,"v":0.38},{"w":"2002/3","n":36,"v":0.355},{"w":"2002/3","n":37,"v":0.34},{"w":"2002/3","n":38,"v":0.307},{"w":"2002/3","n":39,"v":0.287},{"w":"2002/3","n":40,"v":0.283}
]},
"layer":[
{
"mark":{"type":"line","strokeWidth":4.5,"clip":true},
"encoding":{
"x":{"field":"n","type":"quantitative","scale":{"domain":[0,40],"nice":false,"zero":false},
"axis":{"orient":"bottom","values":[0,5,10,15,20,25,30,35,40],"grid":true,"gridColor":"#c4c4c4","gridWidth":1.5,"ticks":false,"tickSize":0,"domainColor":"#333333","domainWidth":3,"labelFont":"Liberation Sans","labelFontSize":58,"labelFontWeight":"bold","labelColor":"black","labelPadding":2,"labelFlush":false,"labelOverlap":false,
"title":"Wave number","titleFont":"Liberation Sans","titleFontSize":62,"titleFontWeight":"bold","titleColor":"black","titleX":787,"titleY":156,"titleAlign":"center","titleBaseline":"alphabetic","titleLimit":2000}},
"y":{"field":"v","type":"quantitative","scale":{"type":"log","domain":[0.2,50],"nice":false},
"axis":{"orient":"left","values":[0.3,0.4,0.5,0.6,0.7,0.8,0.9,1,2,3,4,5,6,7,8,9,10,20,30,40,50],"labelExpr":"indexof([0.3,0.5,0.7,1,2,3,5,7,10,20,30,50], datum.value) >= 0 ? format(datum.value, '~g') : ''","grid":true,"gridColor":"#c4c4c4","gridWidth":1.5,"ticks":false,"tickSize":0,"domainColor":"black","domainWidth":2,"labelFont":"Liberation Sans","labelFontSize":58,"labelFontWeight":"bold","labelColor":"black","labelPadding":13,"labelFlush":false,"labelOverlap":false,
"title":"m²","titleFont":"Liberation Sans","titleFontSize":66,"titleFontWeight":"bold","titleColor":"black","titleAngle":0,"titleX":-167,"titleY":432,"titleAlign":"left","titleBaseline":"alphabetic","titleLimit":500}},
"color":{"field":"w","type":"nominal",
"scale":{"domain":["1980/1","1981/2","1982/3","1983/4","1984/5","1985/6","1986/7","1987/8","1988/9","1989/0","1990/1","1991/2","1992/3","1993/4","1994/5","1995/6","1996/7","1997/8","1998/9","1999/0","2000/1","2001/2","2002/3"],
"range":["#C86E3C","#C4A034","#A8BE32","#5AB832","#46BA38","#42BB44","#40BB52","#3CBB70","#38B890","#38B8A8","#38B6BC","#38AEC4","#3A98C2","#4283BC","#486FB4","#4A5CB8","#4848BC","#4C3CC4","#5E38CC","#7432D0","#D030DA","#D42C98","#E01C1C"]},
"legend":{"orient":"none","legendX":1262,"legendY":1,"title":null,"fillColor":"white","padding":14,"symbolType":"M-20,0H20","symbolSize":172,"symbolStrokeWidth":4,"symbolOffset":122,"labelFontSize":18,"labelOffset":376,"labelExpr":"''","rowPadding":2.2}}
}
},
{
"mark":{"type":"point","opacity":0},
"encoding":{
"x":{"field":"n","type":"quantitative","scale":{"domain":[0,40],"nice":false,"zero":false},
"axis":{"orient":"top","labels":false,"ticks":false,"domain":false,"grid":false,
"title":"December - February","titleFont":"Liberation Sans","titleFontSize":48,"titleFontWeight":"bold","titleColor":"black","titleAlign":"right","titleX":1654,"titleY":-14,"titleBaseline":"alphabetic","titleLimit":2000}},
"y":{"field":"v","type":"quantitative","scale":{"type":"log","domain":[0.2,50],"nice":false},
"axis":{"orient":"right","labels":false,"ticks":false,"domain":false,"grid":false,
"title":["Spectra of mean-square day-1 500hPa","height error variance"],"titleFont":"DejaVu Sans","titleFontSize":30,"titleFontWeight":"bold","titleColor":"#B0006A","titleAngle":0,"titleAlign":"center","titleX":-1561,"titleY":1047,"titleBaseline":"alphabetic","titleLineHeight":35,"titleLimit":2000}},
"shape":{"field":"w","type":"nominal",
"scale":{"domain":["1980/1","1982/3","1984/5","1986/7","1988/9","1990/1","1992/3","1994/5","1996/7","1998/9","2000/1","2002/3"]},
"legend":{"orient":"none","legendX":1509,"legendY":4,"title":null,"padding":0,"symbolOpacity":0,"symbolSize":1,"symbolStrokeWidth":0,"labelFont":"Liberation Sans","labelFontSize":40,"labelColor":"black","labelOffset":0,"labelLimit":300,"rowPadding":0.4,
"labelExpr":"indexof(['1980/1','1984/5','1988/9','1992/3','1996/7','2000/1','2002/3'], datum.label) >= 0 ? datum.label : ''"}}
}
}
],
"resolve":{"axis":{"x":"independent","y":"independent"}}
}
